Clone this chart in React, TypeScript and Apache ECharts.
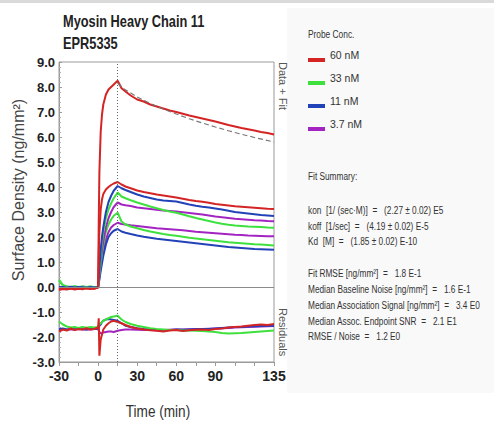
import { useEffect, useRef } from "react";
import * as echarts from "echarts";

// Shared time grid (min)
const time = [-30, -27, -24, -21, -18, -15, -12, -9, -6, -3, 0, 0.5, 1, 2, 3, 4, 6, 8, 10, 12, 15, 18, 21, 25, 30, 35, 40, 45, 50, 55, 60, 65, 70, 75, 80, 85, 90, 95, 100, 105, 110, 115, 120, 125, 130, 135];

// Sensorgrams (ng/mm²)
const red60a = [-0.12, -0.08, -0.1, -0.06, -0.1, -0.07, -0.09, -0.05, -0.08, -0.06, -0.02,
  2.6, 4.6, 6.2, 6.9, 7.3, 7.7, 7.9, 8.0, 8.1, 8.25,
  7.95, 7.82, 7.66, 7.5, 7.42, 7.3, 7.22, 7.14, 7.06, 7.0, 6.93, 6.86, 6.8, 6.74, 6.68, 6.62, 6.55, 6.48, 6.42, 6.36, 6.31, 6.26, 6.2, 6.16, 6.1];
const red60b = [-0.05, -0.08, -0.04, -0.07, -0.05, -0.08, -0.04, -0.06, -0.05, -0.07, -0.02,
  1.2, 2.2, 3.1, 3.5, 3.72, 3.9, 4.0, 4.08, 4.14, 4.2,
  4.1, 4.02, 3.95, 3.86, 3.8, 3.75, 3.7, 3.66, 3.62, 3.58, 3.53, 3.48, 3.44, 3.41, 3.37, 3.32, 3.29, 3.26, 3.23, 3.21, 3.19, 3.17, 3.15, 3.13, 3.12];
const blue11a = [-0.02, 0.0, -0.03, 0.01, -0.02, 0.0, -0.01, -0.03, 0.0, -0.02, 0.0,
  0.4, 0.8, 1.5, 2.0, 2.4, 3.0, 3.4, 3.65, 3.85, 4.04,
  3.95, 3.88, 3.8, 3.7, 3.62, 3.56, 3.5, 3.46, 3.44, 3.42, 3.36, 3.3, 3.25, 3.21, 3.18, 3.14, 3.1, 3.05, 3.0, 2.97, 2.94, 2.91, 2.88, 2.86, 2.84];
const green33a = [0.3, 0.08, 0.02, -0.01, 0.03, 0.0, 0.02, -0.01, 0.01, 0.0, 0.0,
  0.35, 0.7, 1.3, 1.8, 2.2, 2.75, 3.1, 3.35, 3.55, 3.78,
  3.62, 3.55, 3.47, 3.38, 3.3, 3.22, 3.15, 3.08, 3.02, 2.97, 2.9, 2.83, 2.76, 2.7, 2.64, 2.58, 2.53, 2.49, 2.46, 2.44, 2.42, 2.41, 2.4, 2.38, 2.37];
const purple37a = [-0.03, -0.01, -0.04, -0.02, -0.03, -0.01, -0.03, -0.02, -0.01, -0.03, 0.0,
  0.3, 0.6, 1.1, 1.5, 1.85, 2.4, 2.75, 3.0, 3.2, 3.38,
  3.3, 3.27, 3.24, 3.18, 3.15, 3.12, 3.09, 3.06, 3.04, 3.02, 2.99, 2.96, 2.93, 2.9, 2.86, 2.82, 2.79, 2.76, 2.73, 2.71, 2.69, 2.67, 2.66, 2.64, 2.63];
const green33b = [0.25, 0.05, 0.02, 0.0, 0.02, -0.01, 0.01, 0.0, 0.02, -0.01, 0.0,
  0.25, 0.5, 0.95, 1.35, 1.7, 2.2, 2.5, 2.7, 2.85, 2.97,
  2.62, 2.5, 2.42, 2.35, 2.28, 2.22, 2.17, 2.12, 2.08, 2.05, 2.01, 1.97, 1.94, 1.91, 1.88, 1.85, 1.82, 1.79, 1.77, 1.75, 1.73, 1.71, 1.7, 1.68, 1.66];
const purple37b = [-0.02, -0.04, -0.01, -0.03, -0.02, -0.04, -0.01, -0.03, -0.02, -0.01, 0.0,
  0.2, 0.4, 0.8, 1.15, 1.45, 1.9, 2.2, 2.38, 2.48, 2.57,
  2.52, 2.5, 2.47, 2.44, 2.41, 2.38, 2.35, 2.33, 2.31, 2.29, 2.27, 2.24, 2.21, 2.19, 2.17, 2.15, 2.13, 2.11, 2.09, 2.08, 2.06, 2.05, 2.04, 2.03, 2.03];
const blue11b = [0.0, -0.02, 0.01, -0.01, 0.0, -0.02, 0.01, 0.0, -0.01, 0.0, 0.0,
  0.15, 0.3, 0.65, 0.95, 1.25, 1.7, 2.0, 2.15, 2.25, 2.32,
  2.22, 2.17, 2.12, 2.06, 2.01, 1.97, 1.93, 1.9, 1.87, 1.84, 1.81, 1.78, 1.75, 1.72, 1.69, 1.66, 1.63, 1.6, 1.58, 1.56, 1.54, 1.52, 1.51, 1.5, 1.49];

// Fit of the 60 nM dissociation (dashed)
const fitTime = [15, 20, 30, 40, 50, 60, 70, 80, 90, 100, 110, 120, 135];
const fit60 = [8.15, 7.92, 7.6, 7.34, 7.12, 6.92, 6.73, 6.56, 6.4, 6.25, 6.11, 5.98, 5.8];

// Residuals (offset, plotted below zero)
const resRed = [-1.78, -1.7, -1.74, -1.66, -1.72, -1.68, -1.7, -1.65, -1.7, -1.68, -1.62,
  -1.25, -2.75, -2.1, -1.9, -1.7, -1.55, -1.45, -1.38, -1.35, -1.4,
  -1.45, -1.52, -1.6, -1.66, -1.7, -1.73, -1.75, -1.78, -1.74, -1.72, -1.76, -1.73, -1.71, -1.7, -1.72, -1.68, -1.66, -1.62, -1.6, -1.58, -1.55, -1.52, -1.5, -1.52, -1.48];
const resGreen = [-1.38, -1.5, -1.58, -1.62, -1.6, -1.64, -1.6, -1.63, -1.6, -1.62, -1.6,
  -1.55, -1.5, -1.45, -1.4, -1.35, -1.3, -1.25, -1.2, -1.18, -1.15,
  -1.3, -1.4, -1.48, -1.55, -1.6, -1.65, -1.68, -1.7, -1.72, -1.72, -1.74, -1.74, -1.75, -1.76, -1.78, -1.8, -1.84, -1.86, -1.85, -1.84, -1.82, -1.8, -1.78, -1.76, -1.74];
const resBlue = [-1.68, -1.66, -1.7, -1.67, -1.69, -1.66, -1.68, -1.7, -1.67, -1.68, -1.66,
  -1.6, -1.55, -1.5, -1.4, -1.35, -1.3, -1.28, -1.3, -1.32, -1.35,
  -1.45, -1.55, -1.6, -1.65, -1.68, -1.7, -1.72, -1.73, -1.72, -1.7, -1.71, -1.7, -1.69, -1.68, -1.68, -1.66, -1.64, -1.62, -1.6, -1.6, -1.58, -1.57, -1.56, -1.55, -1.55];
const resPurple = [-1.7, -1.68, -1.71, -1.69, -1.7, -1.68, -1.7, -1.69, -1.7, -1.68, -1.68,
  -1.75, -1.8, -1.85, -1.85, -1.82, -1.8, -1.78, -1.78, -1.8, -1.75,
  -1.72, -1.7, -1.7, -1.71, -1.72, -1.72, -1.73, -1.72, -1.71, -1.7, -1.7, -1.69, -1.68, -1.68, -1.67, -1.66, -1.65, -1.64, -1.62, -1.61, -1.6, -1.59, -1.58, -1.57, -1.56];

const xTickLabels = [-30, 0, 30, 60, 90, 135];
const legendNames = ["60 nM", "33 nM", "11 nM", "3.7 nM"];
const colors: Record<string, string> = {
  "60 nM": "#d42424",
  "33 nM": "#3ee03e",
  "11 nM": "#2242b8",
  "3.7 nM": "#a424c2",
};

const titleLines = ["Myosin Heavy Chain 11", "EPR5335"];
const summaryLines: [string, number][] = [
  ["Fit Summary:", 176],
  ["kon  [1/ (sec·M)]  =   (2.27 ± 0.02) E5", 210],
  ["koff  [1/sec]  =   (4.19 ± 0.02) E-5", 226],
  ["Kd  [M]  =   (1.85 ± 0.02) E-10", 241],
  ["Fit RMSE [ng/mm²]  =   1.8 E-1", 273],
  ["Median Baseline Noise [ng/mm²]  =   1.6 E-1", 289],
  ["Median Association Signal [ng/mm²]  =   3.4 E0", 305],
  ["Median Assoc. Endpoint SNR  =   2.1 E1", 321],
  ["RMSE / Noise  =   1.2 E0", 336],
];

const pairs = (xs: number[], ys: number[]) => xs.map((t, i) => [t, ys[i]]);

const lineSeries = (name: string, ys: number[], xs: number[] = time) => ({
  type: "line",
  name,
  data: pairs(xs, ys),
  showSymbol: false,
  symbol: "none",
  lineStyle: { width: 2, color: colors[name] },
  itemStyle: { color: colors[name] },
  silent: true,
});

export default function App() {
  const ref = useRef<HTMLDivElement>(null);
  useEffect(() => {
    document.body.style.margin = "0";
    const chart = echarts.init(ref.current!, null, { renderer: "svg" });
    const font = "'Liberation Sans', Arial, sans-serif";
    const option: any = {
      animation: false,
      backgroundColor: "#ffffff",
      grid: {
        left: 59,
        top: 62,
        width: 215,
        height: 300,
        show: true,
        borderColor: "#9a9a9a",
        borderWidth: 1,
        backgroundColor: "#ffffff",
      },
      xAxis: {
        type: "value",
        min: -30,
        max: 135,
        interval: 15,
        axisLine: { show: true, onZero: false, lineStyle: { color: "#9a9a9a" } },
        axisTick: { show: true, length: 4, lineStyle: { color: "#9a9a9a" } },
        splitLine: { show: false },
        axisLabel: {
          margin: 7,
          fontSize: 14,
          fontWeight: "bold",
          color: "#222",
          fontFamily: font,
          formatter: (v: number) => (xTickLabels.includes(v) ? String(v) : ""),
        },
      },
      yAxis: {
        type: "value",
        min: -3,
        max: 9,
        interval: 1,
        axisLine: { show: true, onZero: false, lineStyle: { color: "#9a9a9a" } },
        axisTick: { show: true, inside: true, length: 3, lineStyle: { color: "#9a9a9a" } },
        minorTick: { show: true, splitNumber: 5, length: 2, lineStyle: { color: "#b0b0b0" } },
        splitLine: { show: false },
        axisLabel: {
          margin: 4,
          fontSize: 13,
          fontWeight: "bold",
          color: "#222",
          fontFamily: font,
          formatter: (v: number) => v.toFixed(1),
        },
      },
      legend: {
        data: legendNames,
        orient: "vertical",
        left: 308,
        top: 48,
        padding: 0,
        itemWidth: 17,
        itemHeight: 14,
        itemGap: 9,
        icon: "path://M0,0 L0.05,0 L0.05,0.05 Z M0,10 L17,10 L17,14 L0,14 Z",
        selectedMode: false,
        textStyle: {
          fontSize: 10.5,
          color: "#333",
          fontFamily: font,
        },
      },
      graphic: [
        { type: "rect", z: -10, shape: { x: 0, y: 0, width: 494, height: 3 }, style: { fill: "#d9d9d9" } },
        { type: "rect", z: -10, shape: { x: 287, y: 8, width: 207, height: 385 }, style: { fill: "#f9f9f9" } },
        {
          type: "group",
          x: 63,
          y: 0,
          scaleX: 0.8,
          children: titleLines.map((t, i) => ({
            type: "text",
            x: 0,
            y: 21 + i * 22,
            style: {
              text: t,
              fontSize: 16,
              fontWeight: "bold",
              fontFamily: font,
              fill: "#222",
              textAlign: "left",
              textVerticalAlign: "middle",
            },
          })),
        },
        {
          type: "text",
          x: 18,
          y: 190,
          rotation: Math.PI / 2,
          style: {
            text: "Surface Density (ng/mm²)",
            fontSize: 16,
            fontFamily: font,
            fill: "#444",
            textAlign: "center",
            textVerticalAlign: "middle",
          },
        },
        {
          type: "text",
          x: 158,
          y: 412,
          scaleX: 0.85,
          style: {
            text: "Time (min)",
            fontSize: 16,
            fontFamily: font,
            fill: "#333",
            textAlign: "center",
            textVerticalAlign: "middle",
          },
        },
        {
          type: "text",
          x: 283,
          y: 62,
          rotation: -Math.PI / 2,
          style: {
            text: "Data + Fit",
            fontSize: 11,
            fontFamily: font,
            fill: "#555",
            textAlign: "left",
            textVerticalAlign: "middle",
          },
        },
        {
          type: "text",
          x: 283,
          y: 308,
          rotation: -Math.PI / 2,
          style: {
            text: "Residuals",
            fontSize: 11,
            fontFamily: font,
            fill: "#555",
            textAlign: "left",
            textVerticalAlign: "middle",
          },
        },
        {
          type: "group",
          x: 308,
          y: 0,
          scaleX: 0.76,
          children: [
            {
              type: "text",
              x: 0,
              y: 34,
              style: {
                text: "Probe Conc.",
                fontSize: 11,
                fontFamily: font,
                fill: "#333",
                textAlign: "left",
                textVerticalAlign: "middle",
              },
            },
          ],
        },
        {
          type: "group",
          x: 308,
          y: 0,
          scaleX: 0.72,
          children: summaryLines.map(([t, y]) => ({
            type: "text",
            x: 0,
            y,
            style: {
              text: t,
              fontSize: 11.5,
              fontFamily: font,
              fill: "#333",
              textAlign: "left",
              textVerticalAlign: "middle",
            },
          })),
        },
      ],
      series: [
        {
          type: "line",
          name: "zero",
          data: [],
          silent: true,
          markLine: {
            silent: true,
            symbol: "none",
            label: { show: false },
            lineStyle: { color: "#8a8a8a", width: 1, type: "solid" },
            data: [{ yAxis: 0 }],
          },
        },
        lineSeries("3.7 nM", purple37b),
        lineSeries("11 nM", blue11b),
        lineSeries("33 nM", green33b),
        lineSeries("3.7 nM", purple37a),
        lineSeries("33 nM", green33a),
        lineSeries("11 nM", blue11a),
        lineSeries("60 nM", red60b),
        lineSeries("60 nM", red60a),
        {
          type: "line",
          name: "fit",
          data: pairs(fitTime, fit60),
          showSymbol: false,
          symbol: "none",
          silent: true,
          lineStyle: { width: 1.2, color: "#777", type: [5, 3] },
        },
        lineSeries("3.7 nM", resPurple),
        lineSeries("11 nM", resBlue),
        lineSeries("33 nM", resGreen),
        lineSeries("60 nM", resRed),
        {
          type: "line",
          name: "inject-end",
          data: [],
          silent: true,
          markLine: {
            silent: true,
            symbol: "none",
            label: { show: false },
            lineStyle: { color: "#666", width: 1, type: [1, 2] },
            data: [{ xAxis: 15 }],
          },
        },
      ],
    };
    chart.setOption(option);
    return () => chart.dispose();
  }, []);
  return <div ref={ref} style={{ width: 494, height: 427 }} />;
}
